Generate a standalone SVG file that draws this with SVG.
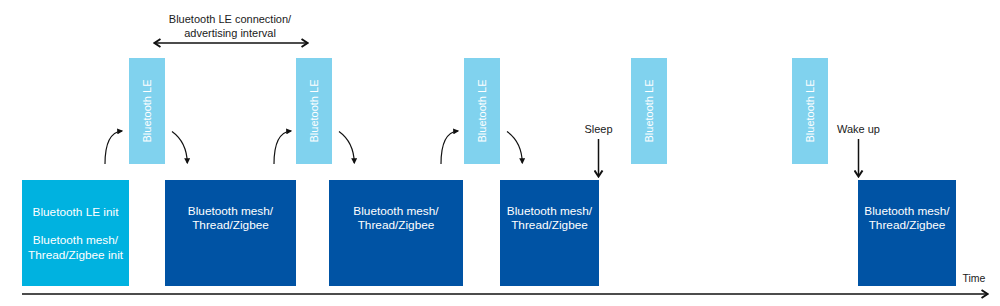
<svg xmlns="http://www.w3.org/2000/svg" width="1000" height="306" viewBox="0 0 1000 306">
<style>
text{font-family:"Liberation Sans",Arial,sans-serif;}
.init{fill:#00b2e0;}
.mesh{fill:#0053a4;}
.ble{fill:#80d2ee;}
.wt{fill:#ffffff;font-size:11.8px;text-anchor:middle;}
.bt{fill:#ffffff;font-size:11px;text-anchor:middle;}
.lbl{fill:#1a1a1a;font-size:11px;text-anchor:middle;}
.ln{fill:none;stroke:#111;stroke-width:1.5;}
.cv{fill:none;stroke:#111;stroke-width:1.2;}
</style>
<defs>
<marker id="chev" markerUnits="userSpaceOnUse" markerWidth="8" markerHeight="10" refX="6" refY="4.5" orient="auto-start-reverse" viewBox="0 0 8 9">
<path d="M0.5,0.5 L6.5,4.5 L0.5,8.5" fill="none" stroke="#111" stroke-width="2"/>
</marker>
<marker id="tri" markerUnits="userSpaceOnUse" markerWidth="6" markerHeight="6" refX="4" refY="2.5" orient="auto" viewBox="0 0 5 5">
<path d="M0,0 L5,2.5 L0,5 z" fill="#111"/>
</marker>
</defs>

<g id="title">
<text class="lbl" x="230" y="23">Bluetooth LE connection/</text>
<text class="lbl" x="230" y="36.5">advertising interval</text>
</g>

<g id="init">
<rect class="init" x="22" y="180" width="107" height="106"/>
<text class="wt" x="75.5" y="216">Bluetooth LE init</text>
<text class="wt" x="75.5" y="244">Bluetooth mesh/</text>
<text class="wt" x="75.5" y="258.5">Thread/Zigbee init</text>
</g>

<g id="ble1">
<rect class="ble" x="129" y="58" width="36" height="106"/>
<text class="bt" transform="translate(151,111) rotate(-90)">Bluetooth LE</text>
</g>
<g id="mesh1">
<rect class="mesh" x="165" y="180" width="131" height="106"/>
<text class="wt" x="230.5" y="215">Bluetooth mesh/</text>
<text class="wt" x="230.5" y="229">Thread/Zigbee</text>
</g>
<g id="ble2">
<rect class="ble" x="296" y="58" width="36" height="106"/>
<text class="bt" transform="translate(318,111) rotate(-90)">Bluetooth LE</text>
</g>
<g id="mesh2">
<rect class="mesh" x="329" y="180" width="134" height="106"/>
<text class="wt" x="396" y="215">Bluetooth mesh/</text>
<text class="wt" x="396" y="229">Thread/Zigbee</text>
</g>
<g id="ble3">
<rect class="ble" x="464" y="58" width="36" height="106"/>
<text class="bt" transform="translate(486,111) rotate(-90)">Bluetooth LE</text>
</g>
<g id="mesh3">
<rect class="mesh" x="500" y="180" width="99" height="106"/>
<text class="wt" x="549.5" y="215">Bluetooth mesh/</text>
<text class="wt" x="549.5" y="229">Thread/Zigbee</text>
</g>
<g id="ble4">
<rect class="ble" x="631" y="58" width="36" height="106"/>
<text class="bt" transform="translate(653,111) rotate(-90)">Bluetooth LE</text>
</g>
<g id="ble5">
<rect class="ble" x="792" y="58" width="36" height="106"/>
<text class="bt" transform="translate(814,111) rotate(-90)">Bluetooth LE</text>
</g>
<g id="mesh4">
<rect class="mesh" x="858" y="180" width="98" height="106"/>
<text class="wt" x="907" y="215">Bluetooth mesh/</text>
<text class="wt" x="907" y="229">Thread/Zigbee</text>
</g>

<g id="labels">
<text class="lbl" x="598.5" y="133">Sleep</text>
<text class="lbl" x="858.5" y="133">Wake up</text>
<text class="lbl" x="974" y="282" style="font-size:10.5px">Time</text>
</g>

<g id="connectors">
<line class="ln" x1="155" y1="43" x2="307" y2="43" marker-start="url(#chev)" marker-end="url(#chev)"/>
<path class="cv" d="M105,164 C105,145 109,132 122,131" marker-end="url(#tri)"/>
<path class="cv" d="M172,131.5 C181,138 187,149 187.3,163" marker-end="url(#tri)"/>
<path class="cv" d="M274,164 C274,145 278,132 291,131" marker-end="url(#tri)"/>
<path class="cv" d="M339,131.5 C348,138 354,149 354.3,163" marker-end="url(#tri)"/>
<path class="cv" d="M441,164 C441,145 445,132 458,131" marker-end="url(#tri)"/>
<path class="cv" d="M507,131.5 C516,138 522,149 522.3,163" marker-end="url(#tri)"/>
<line class="ln" x1="598.5" y1="139" x2="598.5" y2="176" marker-end="url(#chev)"/>
<line class="ln" x1="858.5" y1="139" x2="858.5" y2="176" marker-end="url(#chev)"/>
<line class="ln" x1="22" y1="294" x2="987" y2="294" marker-end="url(#chev)"/>
</g>
</svg>
